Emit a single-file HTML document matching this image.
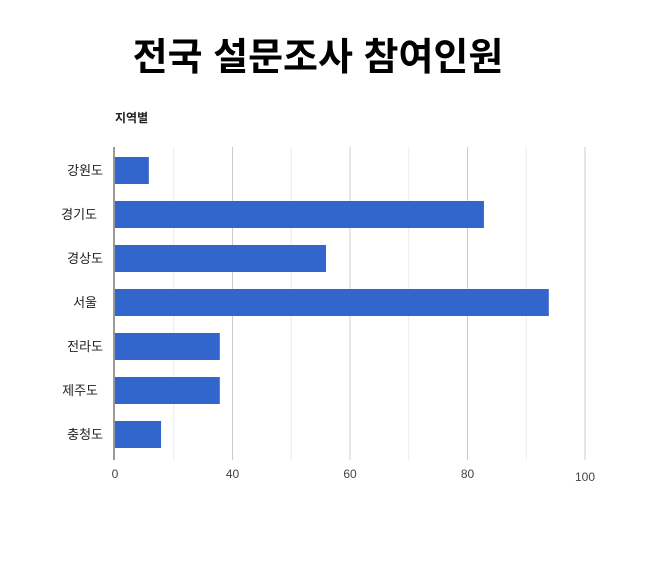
<!DOCTYPE html>
<html><head><meta charset="utf-8">
<style>
body{margin:0;background:#fff;width:656px;height:564px;overflow:hidden;font-family:"Liberation Sans","Noto Sans CJK KR",sans-serif}
</style></head>
<body>
<svg id="chart" width="656" height="564" xmlns="http://www.w3.org/2000/svg">
<text x="318" y="70" text-anchor="middle" font-size="38" font-weight="bold" fill="#000" font-family="Liberation Sans, Noto Sans CJK KR, sans-serif">전국 설문조사 참여인원</text>
<text x="115" y="122" font-size="12" font-weight="bold" fill="#222" font-family="Liberation Sans, Noto Sans CJK KR, sans-serif">지역별</text>
<g id="grid"></g><g id="bars"></g><g id="labels"></g>
</svg>
<script>
const categories=["강원도","경기도","경상도","서울","전라도","제주도","충청도"];
const values=[7.2,78.5,44.9,92.3,22.3,22.3,9.8];
const tickValues=[0,25,50,75,100];
const tickLabels=["0","40","60","80","100"];
const gridValues=[12.5,25,37.5,50,62.5,75,87.5,100];
const NS="http://www.w3.org/2000/svg";
const x0=115,x1=585,yTop=147,yBot=460;
const labelRight=[103,97,103,97,103,98,103];
function xs(v){return x0+(v/100)*(x1-x0);}
function yc(i){return 170+i*44;}
function mk(t,a,p){const e=document.createElementNS(NS,t);for(const k in a)e.setAttribute(k,a[k]);p.appendChild(e);return e;}
const grid=document.getElementById('grid'),bars=document.getElementById('bars'),labels=document.getElementById('labels');
gridValues.forEach((g,i)=>{
 const l=mk('line',{x1:xs(g),x2:xs(g),y1:yTop,y2:yBot,stroke:(i%2)?'#cccccc':'#ebebeb','stroke-width':1},grid);
 
 
});
categories.forEach((c,i)=>{
 const r=mk('rect',{x:xs(0),y:yc(i)-13,width:xs(values[i])-xs(0),height:27,fill:'#3366cc'},bars);
 
 
 const t=mk('text',{x:labelRight[i],y:yc(i)+5,'text-anchor':'end','font-size':13,fill:'#222'},labels);
 t.textContent=c;
 
 
});
const ax=mk('line',{x1:x0-1,x2:x0-1,y1:yTop,y2:yBot,stroke:'#333','stroke-width':1},labels);


tickValues.forEach((v,i)=>{
 const t=mk('text',{x:xs(v),y:i==4?481:478,'text-anchor':'middle','font-size':12,fill:'#444'},labels);
 t.textContent=tickLabels[i];
 
 
});
</script>
</body></html>
